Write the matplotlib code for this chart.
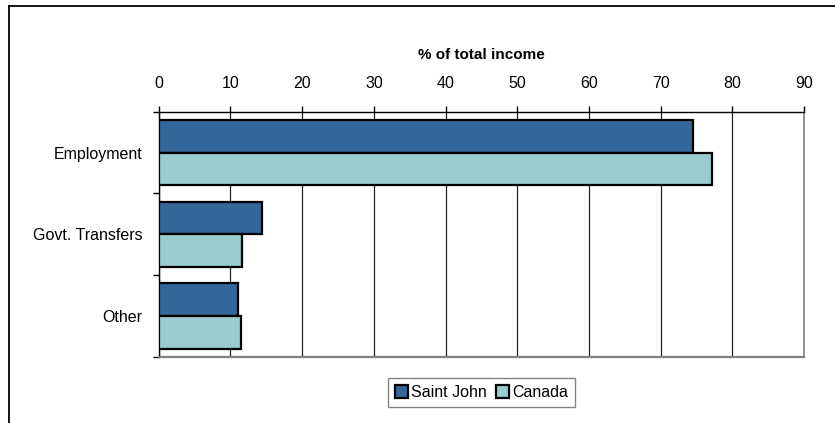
import matplotlib
matplotlib.use("Agg")
import matplotlib.pyplot as plt
from matplotlib.lines import Line2D
import numpy as np

plt.rcParams['font.family'] = ['Liberation Sans', 'DejaVu Sans']

# data
categories = ["Employment", "Govt. Transfers", "Other"]
saint_john = [74.5, 14.4, 11.1]
canada = [77.1, 11.6, 11.4]
series_names = ["Saint John", "Canada"]
x_ticks = [0, 10, 20, 30, 40, 50, 60, 70, 80, 90]

W, H = 835, 423
fs = 11
fig = plt.figure(figsize=(W / 100, H / 100), dpi=100)
ax = fig.add_axes([158.8 / W, 1 - 356.7 / H, (804 - 158.8) / W, (356.7 - 111.7) / H])

y = np.arange(len(categories))
h = 0.4
ax.barh(y - h / 2, saint_john, height=h, color="#336699", edgecolor="black",
        linewidth=1.6, label=series_names[0], zorder=3)
ax.barh(y + h / 2, canada, height=h, color="#99CCCC", edgecolor="black",
        linewidth=1.6, label=series_names[1], zorder=3)

ax.set_xlim(0, 90)
ax.set_ylim(len(categories) - 0.5, -0.5)

# x axis on top
ax.xaxis.tick_top()
ax.xaxis.set_label_position("top")
ax.set_xticks(x_ticks)
ax.set_xticklabels([str(t) for t in x_ticks])
ax.tick_params(axis="x", direction="out", length=4, width=1, color="black",
               labelsize=fs + 0.5, pad=11)
ax.set_xlabel("% of total income", fontsize=fs, fontweight="bold", labelpad=12)

# y ticks: marks at category boundaries, labels centered
ax.set_yticks(y)
ax.set_yticklabels(categories)
ax.set_yticks(np.arange(-0.5, len(categories)), minor=True)
ax.tick_params(axis="y", which="major", length=0, labelsize=fs + 0.5, pad=12)
ax.tick_params(axis="y", which="minor", direction="out", length=4, width=1, color="black")

# vertical gridlines
ax.grid(axis="x", color="#222222", linewidth=0.9, zorder=0)
ax.set_axisbelow(True)

ax.spines["top"].set_color("black")
ax.spines["top"].set_linewidth(1.0)
ax.spines["left"].set_color("black")
ax.spines["left"].set_linewidth(1.0)
ax.spines["bottom"].set_color("#808080")
ax.spines["bottom"].set_linewidth(1.6)
ax.spines["right"].set_color("#808080")
ax.spines["right"].set_linewidth(1.2)

leg = ax.legend(loc="center", bbox_to_anchor=(481.5 / W, 1 - 392.5 / H),
                bbox_transform=fig.transFigure, ncol=2, fontsize=fs + 0.5,
                frameon=True, fancybox=False, borderpad=0.45, handlelength=0.8,
                handleheight=0.8, handletextpad=0.2, columnspacing=0.55,
                borderaxespad=0)
leg.get_frame().set_edgecolor("#666666")
leg.get_frame().set_linewidth(1.0)
for p in leg.get_patches():
    p.set_linewidth(1.6)

# outer frame, cut off at the right and bottom edges
fig.add_artist(Line2D([9 / W, 9 / W], [1 - 6 / H, 0], color="black", linewidth=1.3))
fig.add_artist(Line2D([9 / W, 1], [1 - 6 / H, 1 - 6 / H], color="black", linewidth=1.3))

fig.savefig("out.png", dpi=100)
